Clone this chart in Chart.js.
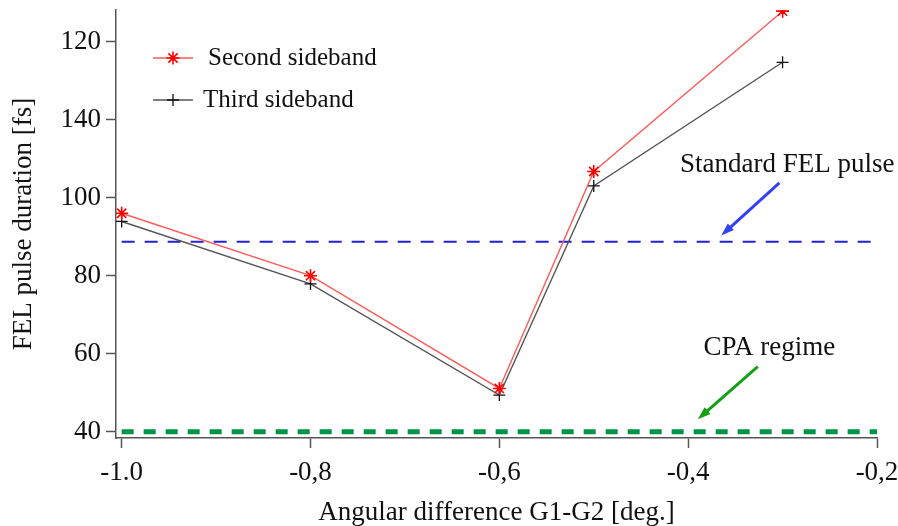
<!DOCTYPE html>
<html>
<head>
<meta charset="utf-8">
<script src="https://cdn.jsdelivr.net/npm/chart.js@4/dist/chart.umd.min.js"></script>
<style>
  html, body { margin: 0; padding: 0; background: #fff; }
  #wrap { width: 898px; height: 526px; }
</style>
</head>
<body>
<div id="wrap"><canvas id="myChart" width="898" height="526"></canvas></div>
<script>
// angular difference and pulse durations
const angles = [-1.0, -0.8, -0.6, -0.5, -0.3];
const secondSideband = [96, 80, 51.1, 106.7, 147.8];
const thirdSideband = [93.9, 77.9, 49.4, 103, 134.7];

// reference levels drawn across the whole range
const levelSpan = [-1.0, -0.2];
const standardFel = 88.7;
const cpaRegime = 40;

const xTickValues = [-1.0, -0.8, -0.6, -0.4, -0.2];
const xTickLabels = ['-1.0', '-0,8', '-0,6', '-0,4', '-0,2'];
const yTickValues = [40, 60, 80, 100, 120, 140];
const yTickLabels = ['40', '60', '80', '100', '140', '120'];

// annotation texts and arrows (data coordinates)
const noteTexts = ['Standard FEL pulse', 'CPA regime'];
const noteAt = [[-0.295, 108.3], [-0.314, 61.5]];
const arrowFrom = [[-0.3034, 103.8], [-0.3263, 56.7]];
const arrowTo = [[-0.365, 90.3], [-0.3898, 43.2]];
const arrowColors = ['#3340f5', '#14a014'];

const serif = '"Liberation Serif", "Times New Roman", serif';

const ctx = document.getElementById('myChart').getContext('2d');

function pairs(xs, ys) {
  return xs.map((x, i) => ({ x: x, y: ys[i] }));
}

function drawStar(c, x, y, r) {
  c.beginPath();
  for (let k = 0; k < 4; k++) {
    const a = k * Math.PI / 4;
    c.moveTo(x - r * Math.cos(a), y - r * Math.sin(a));
    c.lineTo(x + r * Math.cos(a), y + r * Math.sin(a));
  }
  c.stroke();
}

function drawCross(c, x, y, r) {
  c.beginPath();
  c.moveTo(x - r, y); c.lineTo(x + r, y);
  c.moveTo(x, y - r); c.lineTo(x, y + r);
  c.stroke();
}

const notesPlugin = {
  id: 'notes',
  afterDatasetsDraw(chart) {
    const c = chart.ctx;
    const xs = chart.scales.x, ys = chart.scales.y;
    c.save();
    // arrows
    arrowFrom.forEach((p, i) => {
      const x0 = xs.getPixelForValue(p[0]), y0 = ys.getPixelForValue(p[1]);
      const x1 = xs.getPixelForValue(arrowTo[i][0]), y1 = ys.getPixelForValue(arrowTo[i][1]);
      const ang = Math.atan2(y1 - y0, x1 - x0);
      const head = 13, half = 4.5;
      c.strokeStyle = arrowColors[i];
      c.fillStyle = arrowColors[i];
      c.lineWidth = 3;
      c.beginPath();
      c.moveTo(x0, y0);
      c.lineTo(x1 - head * 0.8 * Math.cos(ang), y1 - head * 0.8 * Math.sin(ang));
      c.stroke();
      c.beginPath();
      c.moveTo(x1, y1);
      c.lineTo(x1 - head * Math.cos(ang) + half * Math.sin(ang), y1 - head * Math.sin(ang) - half * Math.cos(ang));
      c.lineTo(x1 - head * Math.cos(ang) - half * Math.sin(ang), y1 - head * Math.sin(ang) + half * Math.cos(ang));
      c.closePath();
      c.fill();
    });
    // labels
    c.fillStyle = '#111';
    c.font = '27px ' + serif;
    c.textAlign = 'center';
    c.textBaseline = 'middle';
    noteTexts.forEach((t, i) => {
      c.fillText(t, xs.getPixelForValue(noteAt[i][0]), ys.getPixelForValue(noteAt[i][1]));
    });
    // legend box in the upper left
    const area = chart.chartArea;
    const lx = area.left + 37, ly = area.top + 48;
    c.lineWidth = 1.3;
    c.strokeStyle = '#ff5a5a';
    c.beginPath(); c.moveTo(lx, ly); c.lineTo(lx + 40, ly); c.stroke();
    c.strokeStyle = '#ff0000';
    c.lineWidth = 1.6;
    drawStar(c, lx + 20, ly, 6.5);
    c.lineWidth = 1.3;
    c.strokeStyle = '#555';
    c.beginPath(); c.moveTo(lx, ly + 42); c.lineTo(lx + 40, ly + 42); c.stroke();
    c.strokeStyle = '#111';
    drawCross(c, lx + 20, ly + 42, 6);
    c.fillStyle = '#111';
    c.font = '25px ' + serif;
    c.textAlign = 'left';
    c.fillText('Second sideband', lx + 55, ly);
    c.fillText('Third sideband', lx + 50, ly + 42);
    c.restore();
  }
};

new Chart(ctx, {
  type: 'scatter',
  data: {
    datasets: [
      {
        label: 'Second sideband',
        data: pairs(angles, secondSideband),
        showLine: true,
        borderColor: '#ff5a5a',
        borderWidth: 1.4,
        pointStyle: 'star',
        pointRadius: 6.5,
        pointBorderColor: '#ff0000',
        pointBorderWidth: 1.6,
        order: 1
      },
      {
        label: 'Third sideband',
        data: pairs(angles, thirdSideband),
        showLine: true,
        borderColor: '#555',
        borderWidth: 1.4,
        pointStyle: 'cross',
        pointRadius: 6,
        pointBorderColor: '#111',
        pointBorderWidth: 1.3,
        order: 2
      },
      {
        label: 'Standard FEL pulse',
        data: pairs(levelSpan, [standardFel, standardFel]),
        showLine: true,
        borderColor: '#2020d8',
        borderWidth: 2,
        borderDash: [13, 10],
        pointRadius: 0,
        order: 3
      },
      {
        label: 'CPA regime',
        data: pairs(levelSpan, [cpaRegime, cpaRegime]),
        showLine: true,
        borderColor: '#009447',
        borderWidth: 5,
        borderDash: [12, 10],
        pointRadius: 0,
        order: 4
      }
    ]
  },
  options: {
    responsive: false,
    animation: false,
    layout: { padding: { left: 0, top: 10, right: 0, bottom: 0 } },
    plugins: {
      legend: { display: false },
      tooltip: { enabled: false }
    },
    scales: {
      x: {
        type: 'linear',
        min: -1.006,
        max: -0.2,
        afterBuildTicks: s => { s.ticks = xTickValues.map(v => ({ value: v })); },
        afterFit: s => { s.height = 88; s.paddingLeft = 0; s.paddingRight = 21; },
        ticks: {
          callback: (v, i) => xTickLabels[i],
          autoSkip: false,
          maxRotation: 0,
          padding: 9,
          color: '#111',
          font: { family: serif, size: 27 }
        },
        grid: { drawOnChartArea: false, drawTicks: true, tickLength: 10, tickColor: '#555', tickWidth: 1.5 },
        border: { display: true, color: '#555', width: 1.5 },
        title: {
          display: true,
          text: 'Angular difference G1-G2 [deg.]',
          color: '#111',
          font: { family: serif, size: 27 },
          padding: { top: 0, bottom: -3 }
        }
      },
      y: {
        type: 'linear',
        min: 38.4,
        max: 148.1,
        afterBuildTicks: s => { s.ticks = yTickValues.map(v => ({ value: v })); },
        afterFit: s => { s.width = 116; s.paddingTop = 0; s.paddingBottom = 0; },
        ticks: {
          callback: (v, i) => yTickLabels[i],
          autoSkip: false,
          padding: 5,
          color: '#111',
          font: { family: serif, size: 27 }
        },
        grid: { drawOnChartArea: false, drawTicks: true, tickLength: 10, tickColor: '#555', tickWidth: 1.5 },
        border: { display: true, color: '#555', width: 1.5 },
        title: {
          display: true,
          text: 'FEL pulse duration [fs]',
          color: '#111',
          font: { family: serif, size: 27 },
          padding: { top: 8, bottom: 0 }
        }
      }
    }
  },
  plugins: [notesPlugin]
});
</script>
</body>
</html>
